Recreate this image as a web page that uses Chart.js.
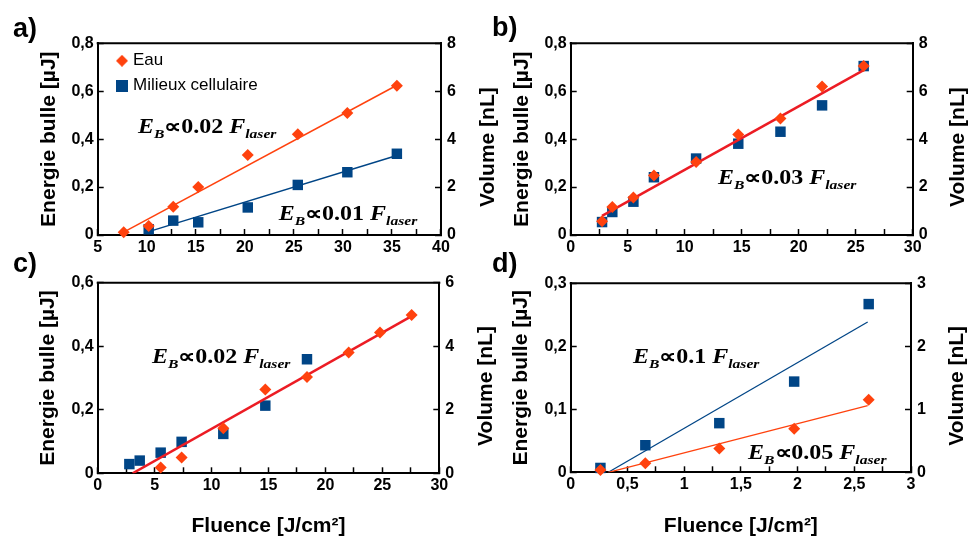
<!DOCTYPE html>
<html>
<head>
<meta charset="utf-8">
<script src="https://cdn.jsdelivr.net/npm/chart.js@4.4.0/dist/chart.umd.min.js"></script>
<style>
  body { margin: 0; background: #fff; }
  #wrap { position: relative; width: 969px; height: 539px; }
  #wrap canvas { position: absolute; left: 0; top: 0; }
</style>
</head>
<body>
<div id="wrap">
  <canvas id="chartA" width="969" height="539"></canvas>
  <canvas id="chartB" width="969" height="539"></canvas>
  <canvas id="chartC" width="969" height="539"></canvas>
  <canvas id="chartD" width="969" height="539"></canvas>
</div>
<script>
// a) energie bulle, eau / milieux cellulaire
const aEauFluence = [7.65, 10.2, 12.7, 15.25, 20.3, 25.4, 30.45, 35.5];
const aEauEnergie = [0.011, 0.038, 0.118, 0.200, 0.334, 0.420, 0.509, 0.623];
const aCellFluence = [10.2, 12.7, 15.25, 20.3, 25.4, 30.45, 35.5];
const aCellEnergie = [0.024, 0.060, 0.053, 0.115, 0.209, 0.262, 0.339];
const aEauFitX = [7.65, 35.5], aEauFitY = [0.012, 0.625];
const aCellFitX = [10.2, 35.5], aCellFitY = [0.014, 0.332];

// b)
const bFluence = [2.75, 3.65, 5.5, 7.3, 11.0, 14.7, 18.4, 22.05, 25.7];
const bEauEnergie = [0.057, 0.117, 0.157, 0.248, 0.305, 0.419, 0.486, 0.620, 0.705];
const bCellEnergie = [0.054, 0.096, 0.139, 0.241, 0.319, 0.381, 0.431, 0.541, 0.705];
const bFitX = [2.75, 25.7], bFitY = [0.080, 0.688];

// c)
const cEauFluence = [5.53, 7.37, 11.03, 14.72, 18.38, 22.04, 24.79, 27.57];
const cEauEnergie = [0.018, 0.050, 0.142, 0.264, 0.303, 0.380, 0.443, 0.498];
const cCellFluence = [2.78, 3.69, 5.53, 7.37, 11.03, 14.72, 18.38];
const cCellEnergie = [0.029, 0.040, 0.065, 0.099, 0.124, 0.213, 0.359];
const cFitX = [3.07, 27.57], cFitY = [0, 0.495];

// d)
const dFluence = [0.262, 0.658, 1.31, 1.97, 2.627];
const dEauEnergie = [0.0037, 0.0143, 0.0376, 0.069, 0.115];
const dCellEnergie = [0.0069, 0.043, 0.078, 0.144, 0.267];
const dEauFitX = [0.332, 2.618], dEauFitY = [0, 0.106];
const dCellFitX = [0.332, 2.618], dCellFitY = [0, 0.2386];

// axes: [min, max, step, labelStep]
const xAxisA = [5, 40, 2.5, 5];
const xAxisBC = [0, 30, 2.5, 5];
const xAxisD = [0, 3, 0.25, 0.5];
const yAxisAB = [0, 0.8, 0.2], y2AxisAB = [0, 8, 2];
const yAxisC = [0, 0.6, 0.2], y2AxisC = [0, 6, 2];
const yAxisD = [0, 0.3, 0.1], y2AxisD = [0, 3, 1];

const ORANGE = '#ff420e';
const BLUE = '#004586';
const RED = '#ec1c24';
const SANS = '"Liberation Sans", Arial, sans-serif';
const SERIF = '"Liberation Serif", "Times New Roman", serif';

Chart.defaults.font.family = SANS;
Chart.defaults.color = '#000';

function pts(xs, ys) {
  return xs.map((x, i) => ({ x: x, y: ys[i] }));
}

function fmt(v) {
  return String(Math.round(v * 1000) / 1000).replace('.', ',');
}

function marker(shape, color, size) {
  const c = document.createElement('canvas');
  c.width = size; c.height = size;
  const g = c.getContext('2d');
  g.fillStyle = color;
  if (shape === 'diamond') {
    g.beginPath();
    g.moveTo(size / 2, 0); g.lineTo(size, size / 2); g.lineTo(size / 2, size); g.lineTo(0, size / 2);
    g.closePath(); g.fill();
  } else {
    g.fillRect(0, 0, size, size);
  }
  return c;
}
const legendMarkers = [marker('diamond', ORANGE, 12), marker('square', BLUE, 12)];

function eauPoints(data) {
  return { label: 'Eau', data: data, pointStyle: 'rectRot', pointRadius: 6, pointBorderWidth: 0,
    backgroundColor: ORANGE, borderColor: ORANGE, showLine: false, clip: false };
}
function cellPoints(data) {
  return { label: 'Milieux cellulaire', data: data, pointStyle: 'rect', pointRadius: 7.4, pointBorderWidth: 0,
    backgroundColor: BLUE, borderColor: BLUE, showLine: false, clip: false };
}
function fitLine(data, color, width) {
  return { label: 'fit', data: data, showLine: true, pointRadius: 0, borderColor: color, borderWidth: width,
    backgroundColor: color, fill: false };
}

function tickGrid() {
  return { drawOnChartArea: false, drawTicks: true, tickLength: -6, tickColor: '#000', tickWidth: 1.5 };
}

function makeScales(xr, yr, y2r, size, xTitle) {
  const tickFont = { size: 16, weight: 'bold' };
  const titleFont = { size: 21, weight: 'bold' };
  return {
    x: {
      type: 'linear', min: xr[0], max: xr[1],
      afterFit: s => { s.height = size.hX; },
      grid: tickGrid(), border: { color: '#000', width: 2 },
      ticks: { stepSize: xr[2], autoSkip: false, maxRotation: 0, padding: 9, font: tickFont,
        callback: v => Math.abs(v / xr[3] - Math.round(v / xr[3])) < 1e-6 ? fmt(v) : '' },
      title: { display: !!xTitle, text: xTitle || '', font: titleFont, padding: 0 }
    },
    y: {
      type: 'linear', position: 'left', min: yr[0], max: yr[1],
      afterFit: s => { s.width = size.wL; },
      grid: tickGrid(), border: { color: '#000', width: 2 },
      ticks: { stepSize: yr[2], padding: 10, font: tickFont, callback: v => fmt(v) },
      title: { display: true, text: 'Energie bulle [µJ]', font: titleFont, padding: 0 }
    },
    y2: {
      type: 'linear', position: 'right', display: true, min: y2r[0], max: y2r[1],
      afterFit: s => { s.width = size.wR; },
      grid: tickGrid(), border: { color: '#000', width: 2 },
      ticks: { stepSize: y2r[2], padding: 12, font: tickFont, callback: v => fmt(v) }
    }
  };
}

// E_B ∝ k F_laser, drawn piece by piece with subscripts
function drawFormula(ctx, x, y, coef) {
  const big = 'italic bold 20px ' + SERIF;
  const bigUp = 'bold 20px ' + SERIF;
  const small = 'italic bold 13px ' + SERIF;
  const parts = [['E', big, 0], ['B', small, 5], ['\u221D', bigUp, 0], [coef, bigUp, 0],
    [' ', bigUp, 0], ['F', big, 0], ['laser', small, 5]];
  ctx.save();
  ctx.translate(x, y);
  ctx.scale(1.2, 1);
  ctx.fillStyle = '#000';
  ctx.textAlign = 'left';
  ctx.textBaseline = 'alphabetic';
  let cx = 0;
  parts.forEach(p => {
    ctx.font = p[1];
    ctx.fillText(p[0], cx, p[2]);
    cx += ctx.measureText(p[0]).width;
  });
  ctx.restore();
}

const decoPlugin = {
  id: 'deco',
  afterLayout(chart, args, opts) {
    if (opts.legendShift && chart.legend) {
      const a = chart.chartArea;
      chart.legend.left = a.left + opts.legendShift[0];
      chart.legend.top = a.top + opts.legendShift[1];
      chart.legend.bottom = a.bottom;
    }
  },
  afterDraw(chart, args, opts) {
    const ctx = chart.ctx;
    const a = chart.chartArea;
    ctx.save();
    ctx.strokeStyle = '#000';
    ctx.lineWidth = 2;
    ctx.beginPath();
    ctx.moveTo(a.left - 1, a.top);
    ctx.lineTo(a.right + 1, a.top);
    ctx.stroke();

    ctx.fillStyle = '#000';
    ctx.font = 'bold 27px ' + SANS;
    ctx.textAlign = 'left';
    ctx.textBaseline = 'alphabetic';
    ctx.fillText(opts.letter, opts.letterPos[0], opts.letterPos[1]);

    // right axis title reads bottom-up, like the left one
    ctx.font = 'bold 21px ' + SANS;
    ctx.translate(opts.rightTitleX, (a.top + a.bottom) / 2 + 8);
    ctx.rotate(-Math.PI / 2);
    ctx.textAlign = 'center';
    ctx.textBaseline = 'middle';
    ctx.fillText('Volume [nL]', 0, 0);
    ctx.restore();

    opts.notes.forEach(n => {
      drawFormula(ctx, chart.scales.x.getPixelForValue(n.x), chart.scales.y.getPixelForValue(n.y), n.coef);
    });
  }
};

function makeChart(id, datasets, scales, padding, deco, legend) {
  return new Chart(document.getElementById(id), {
    type: 'scatter',
    data: { datasets: datasets },
    options: {
      responsive: false,
      animation: false,
      events: [],
      layout: { padding: padding },
      scales: scales,
      plugins: {
        legend: legend || { display: false },
        tooltip: { enabled: false },
        deco: deco
      }
    },
    plugins: [decoPlugin]
  });
}

const legendA = {
  display: true,
  position: 'chartArea',
  align: 'start',
  labels: {
    usePointStyle: true,
    pointStyleWidth: 5,
    boxHeight: 17,
    padding: 8,
    color: '#000',
    font: { size: 17 },
    filter: item => item.datasetIndex < 2,
    generateLabels: chart => Chart.defaults.plugins.legend.labels.generateLabels(chart).map(item => {
      if (item.datasetIndex < 2) item.pointStyle = legendMarkers[item.datasetIndex];
      return item;
    })
  }
};

makeChart('chartA',
  [eauPoints(pts(aEauFluence, aEauEnergie)), cellPoints(pts(aCellFluence, aCellEnergie)),
   fitLine(pts(aEauFitX, aEauFitY), ORANGE, 1.5), fitLine(pts(aCellFitX, aCellFitY), BLUE, 1.5)],
  makeScales(xAxisA, yAxisAB, y2AxisAB, { hX: 30, wL: 61.3, wR: 30 }),
  { left: 36.4, right: 498, top: 43.3, bottom: 274 },
  { letter: 'a)', letterPos: [13, 37], rightTitleX: 488, legendShift: [13.8, 1],
    notes: [{ x: 9.11, y: 0.426, coef: '0.02' }, { x: 23.47, y: 0.063, coef: '0.01' }] },
  legendA);

makeChart('chartB',
  [eauPoints(pts(bFluence, bEauEnergie)), fitLine(pts(bFitX, bFitY), RED, 2.5),
   cellPoints(pts(bFluence, bCellEnergie))],
  makeScales(xAxisBC, yAxisAB, y2AxisAB, { hX: 30, wL: 60.8, wR: 30 }),
  { left: 509.9, right: 26.3, top: 43.3, bottom: 274 },
  { letter: 'b)', letterPos: [492, 36], rightTitleX: 958,
    notes: [{ x: 12.92, y: 0.213, coef: '0.03' }] });

makeChart('chartC',
  [eauPoints(pts(cEauFluence, cEauEnergie)), fitLine(pts(cFitX, cFitY), RED, 2.5),
   cellPoints(pts(cCellFluence, cCellEnergie))],
  makeScales(xAxisBC, yAxisC, y2AxisC, { hX: 65.7, wL: 61.8, wR: 30 }, 'Fluence [J/cm²]'),
  { left: 35.9, right: 499.7, top: 282.7, bottom: 0 },
  { letter: 'c)', letterPos: [13, 272], rightTitleX: 486,
    notes: [{ x: 4.77, y: 0.347, coef: '0.02' }] });

makeChart('chartD',
  [eauPoints(pts(dFluence, dEauEnergie)), cellPoints(pts(dFluence, dCellEnergie)),
   fitLine(pts(dEauFitX, dEauFitY), ORANGE, 1.3), fitLine(pts(dCellFitX, dCellFitY), BLUE, 1.3)],
  makeScales(xAxisD, yAxisD, y2AxisD, { hX: 66.7, wL: 62.3, wR: 30 }, 'Fluence [J/cm²]'),
  { left: 508.4, right: 28, top: 283.3, bottom: 0 },
  { letter: 'd)', letterPos: [492, 272], rightTitleX: 957,
    notes: [{ x: 0.549, y: 0.1735, coef: '0.1' }, { x: 1.564, y: 0.0211, coef: '0.05' }] });
</script>
</body>
</html>
